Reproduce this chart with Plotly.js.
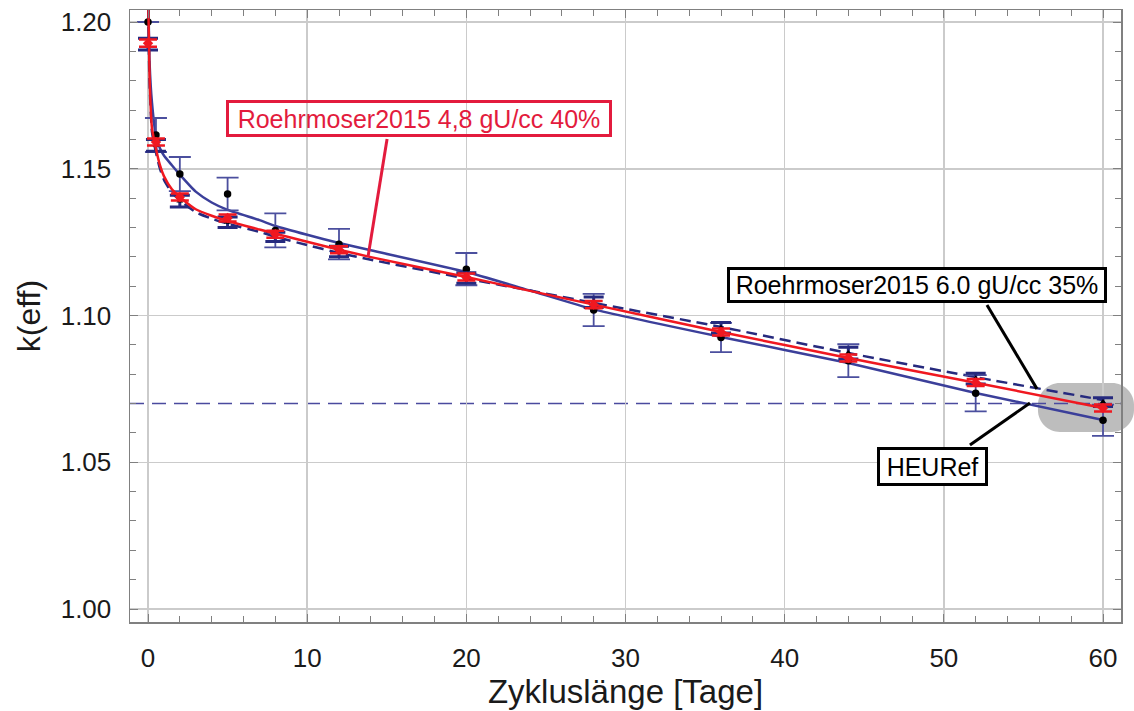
<!DOCTYPE html>
<html>
<head>
<meta charset="utf-8">
<script src="https://cdn.plot.ly/plotly-3.0.1.min.js"></script>
<style>html,body{margin:0;padding:0;background:#fff;}#chart{width:1134px;height:711px;}</style>
</head>
<body>
<div id="chart"></div>
<script>
// ---- data ----
const days = [0, 0.5, 2, 5, 8, 12, 20, 28, 36, 44, 52, 60];
const heuRef = [1.2000, 1.1615, 1.1482, 1.1414, 1.1290, 1.1243, 1.1158, 1.1019, 1.0925, 1.0846, 1.0735, 1.0643];
const heuErr = [0, 0.0058, 0.0058, 0.0056, 0.0058, 0.0052, 0.0055, 0.0055, 0.0050, 0.0056, 0.0062, 0.0053];
const r48 = [1.1928, 1.1591, 1.1404, 1.1332, 1.1277, 1.1224, 1.1131, 1.1037, 1.0944, 1.0855, 1.0772, 1.0685];
const r48Err = [0.0012, 0.0012, 0.0012, 0.0012, 0.0012, 0.0012, 0.0012, 0.0012, 0.0012, 0.0012, 0.0012, 0.0012];
const r60 = [1.1925, 1.1580, 1.1390, 1.1318, 1.1268, 1.1218, 1.1128, 1.1045, 1.0958, 1.0872, 1.0785, 1.0705];
const r60Err = [0.0020, 0.0020, 0.0020, 0.0018, 0.0016, 0.0018, 0.0018, 0.0018, 0.0018, 0.0020, 0.0018, 0.0015];

const fitX = [0, 0.1, 0.25, 0.5, 0.75, 1, 1.5, 2, 3, 4, 5, 7, 8, 10, 12, 14, 20, 24, 28, 36, 44, 52, 60];
const heuFit = [1.216, 1.186, 1.1725, 1.1612, 1.1570, 1.1545, 1.1512, 1.1480, 1.1422, 1.1385, 1.1360, 1.1325, 1.1305, 1.1275, 1.1247, 1.1222, 1.1148, 1.1085, 1.1021, 1.0927, 1.0838, 1.0736, 1.0644];
const r48Fit = [1.212, 1.181, 1.1638, 1.1568, 1.1512, 1.1475, 1.1430, 1.1404, 1.1362, 1.1340, 1.1322, 1.1293, 1.1279, 1.1251, 1.1224, 1.1199, 1.1131, 1.1084, 1.1037, 1.0944, 1.0855, 1.0771, 1.0685];
const r60Fit = [1.210, 1.179, 1.1625, 1.1555, 1.1500, 1.1463, 1.1418, 1.1393, 1.1352, 1.1330, 1.1313, 1.1285, 1.1268, 1.1240, 1.1213, 1.1190, 1.1126, 1.1085, 1.1043, 1.0961, 1.0872, 1.0790, 1.0712];

const limitK = 1.07;
const xTitle = 'Zykluslänge [Tage]';
const yTitle = 'k(eff)';
const label48 = 'Roehrmoser2015 4,8 gU/cc 40%';
const label60 = 'Roehrmoser2015 6.0 gU/cc 35%';
const labelHEU = 'HEURef';

const BLUE = '#3b3f9a', NAVY = '#262a7e', RED = '#f01820', ANNRED = '#e31b3d';
const FONT = '"Liberation Sans", Arial, sans-serif';

const traces = [
  {x: fitX, y: heuFit, mode: 'lines', line: {color: BLUE, width: 2.5, shape: 'spline', smoothing: 0.5}, hoverinfo: 'skip'},
  {x: fitX, y: r60Fit, mode: 'lines', line: {color: NAVY, width: 2.5, dash: '11px,6px', shape: 'spline', smoothing: 0.5}, hoverinfo: 'skip'},
  {x: days, y: heuRef, mode: 'markers', marker: {color: '#000', size: 7.5},
   error_y: {type: 'data', array: heuErr, visible: true, color: '#4b4f9e', thickness: 1.8, width: 11}},
  {x: days, y: r60, mode: 'markers', marker: {color: '#000', size: 6, symbol: 'triangle-up'},
   error_y: {type: 'data', array: r60Err, visible: true, color: NAVY, thickness: 3, width: 10}},
  {x: fitX, y: r48Fit, mode: 'lines', line: {color: RED, width: 2.5, shape: 'spline', smoothing: 0.5}, hoverinfo: 'skip'},
  {x: days, y: r48, mode: 'markers', marker: {color: RED, size: 8, symbol: 'diamond'},
   error_y: {type: 'data', array: r48Err, visible: true, color: RED, thickness: 2.5, width: 9}}
];

const axisCommon = {
  showline: true, linecolor: '#808080', linewidth: 1.5, mirror: 'allticks',
  ticks: 'inside', ticklen: 8, tickcolor: '#808080', tickwidth: 1,
  showgrid: true, gridcolor: '#cbcbcb', gridwidth: 1.5, zeroline: false,
  tickfont: {family: FONT, size: 26, color: '#1a1a1a'}
};

const layout = {
  width: 1134, height: 711,
  margin: {l: 130, r: 13, t: 10, b: 89},
  paper_bgcolor: '#ffffff', plot_bgcolor: 'rgba(0,0,0,0)',
  showlegend: false,
  xaxis: Object.assign({}, axisCommon, {
    range: [-1.131, 61.13], tickmode: 'linear', tick0: 0, dtick: 10, ticklabelstandoff: 12,
    minor: {dtick: 2, ticks: 'inside', ticklen: 6, tickcolor: '#808080', showgrid: false},
    title: {text: xTitle, font: {family: FONT, size: 33, color: '#1a1a1a'}, standoff: 4}
  }),
  yaxis: Object.assign({}, axisCommon, {
    range: [0.99557, 1.20409], tickmode: 'linear', tick0: 1.0, dtick: 0.05, tickformat: '.2f', ticklabelstandoff: 12,
    minor: {dtick: 0.01, ticks: 'inside', ticklen: 6, tickcolor: '#808080', showgrid: false},
    title: {text: yTitle, font: {family: FONT, size: 32, color: '#1a1a1a'}, standoff: 10}
  }),
  shapes: [
    {type: 'path', xref: 'paper', yref: 'paper', layer: 'below',
     path: 'M0.9384,0.3905 L0.9909,0.3905 C1.0032,0.3905 1.0131,0.3744 1.0131,0.3546 L1.0131,0.3464 C1.0131,0.3266 1.0032,0.3105 0.9909,0.3105 L0.9384,0.3105 C0.9261,0.3105 0.9162,0.3266 0.9162,0.3464 L0.9162,0.3546 C0.9162,0.3744 0.9261,0.3905 0.9384,0.3905 Z',
     fillcolor: '#bdbdbd', line: {width: 0}},
    {type: 'line', xref: 'paper', yref: 'y', x0: 0, x1: 1, y0: limitK, y1: limitK,
     line: {color: '#4a4a9e', width: 1.5, dash: '14px,8px'}, layer: 'below'},
    {type: 'line', xref: 'x', yref: 'y', x0: 15.02, y0: 1.1601, x1: 13.82, y1: 1.1199, line: {color: ANNRED, width: 3}},
    {type: 'line', xref: 'x', yref: 'y', x0: 52.71, y0: 1.1036, x1: 55.85, y1: 1.0750, line: {color: '#000', width: 3}},
    {type: 'line', xref: 'x', yref: 'y', x0: 51.64, y0: 1.0559, x1: 55.41, y1: 1.0702, line: {color: '#000', width: 3}}
  ],
  annotations: [
    {x: 17.03, y: 1.16712, xref: 'x', yref: 'y', text: label48, showarrow: false,
     font: {family: FONT, size: 25, color: ANNRED}, bordercolor: ANNRED, borderwidth: 3, borderpad: 0,
     width: 380, height: 31, xanchor: 'center', yanchor: 'middle'},
    {x: 48.31, y: 1.11039, xref: 'x', yref: 'y', text: label60, showarrow: false,
     font: {family: FONT, size: 25, color: '#000'}, bordercolor: '#000', borderwidth: 3, borderpad: 0,
     width: 374, height: 30, xanchor: 'center', yanchor: 'middle', bgcolor: '#ffffff'},
    {x: 49.29, y: 1.04855, xref: 'x', yref: 'y', text: labelHEU, showarrow: false,
     font: {family: FONT, size: 25, color: '#000'}, bordercolor: '#000', borderwidth: 3, borderpad: 0,
     width: 105, height: 33, xanchor: 'center', yanchor: 'middle', bgcolor: '#ffffff'}
  ]
};

Plotly.newPlot('chart', traces, layout, {displayModeBar: false, staticPlot: true});
</script>
</body>
</html>
